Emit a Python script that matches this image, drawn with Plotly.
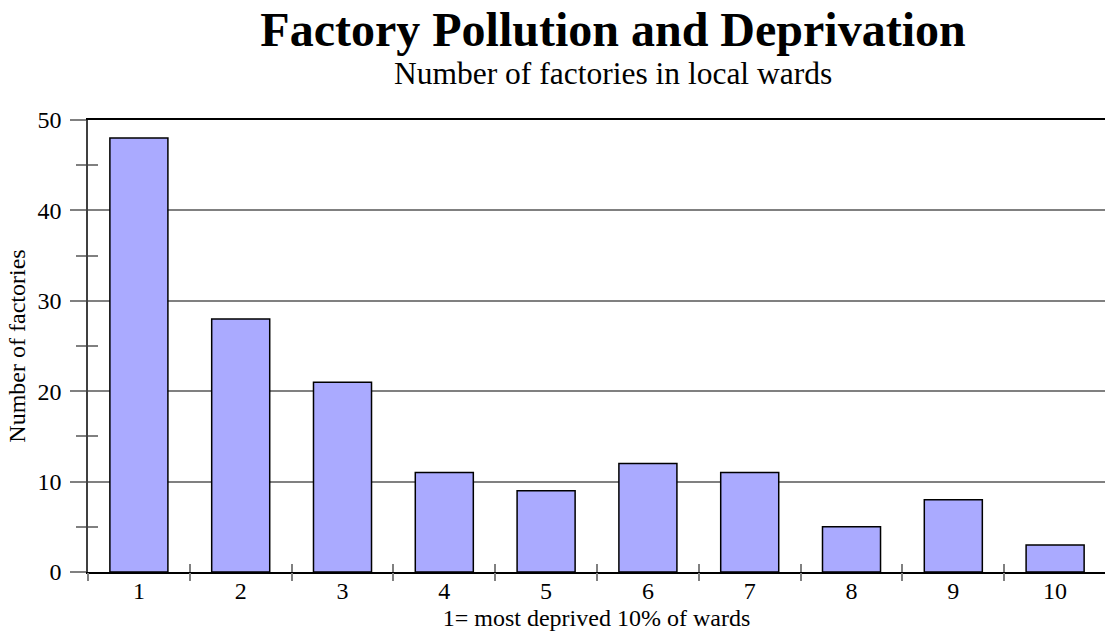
import plotly.graph_objects as go

categories = [1, 2, 3, 4, 5, 6, 7, 8, 9, 10]
tick_labels = ["1", "2", "3", "4", "5", "6", "7", "8", "9", "10"]
factories = [48, 28, 21, 11, 9, 12, 11, 5, 8, 3]
boundaries = [c - 0.5 for c in categories]

FONT = "Liberation Serif, Times New Roman, serif"
GRAY = "#808080"
FS = 24

fig = go.Figure()
fig.add_trace(go.Bar(
    x=categories, y=factories, width=0.57,
    marker=dict(color="#aaaaff", line=dict(color="black", width=1.5)),
    showlegend=False, hoverinfo="x+y",
))
fig.add_trace(go.Scatter(x=[None], y=[None], xaxis="x2", yaxis="y2", showlegend=False))
fig.add_trace(go.Scatter(x=[None], y=[None], xaxis="x3", yaxis="y", showlegend=False))

xr = [0.5, 10.49]
fig.update_layout(
    width=1105, height=637,
    margin=dict(l=88, r=0, t=120, b=65),
    paper_bgcolor="white", plot_bgcolor="white",
    font=dict(family=FONT, color="black", size=FS),
    title=dict(text="<b>Factory Pollution and Deprivation</b>",
               font=dict(family=FONT, size=48, color="black"),
               xref="container", x=613/1105, xanchor="center",
               yref="container", y=1-29/637, yanchor="middle", automargin=False),
    annotations=[dict(text="Number of factories in local wards",
                      xref="paper", yref="paper", x=(613-88)/1017, y=(572-74)/452,
                      xanchor="center", yanchor="middle", showarrow=False,
                      font=dict(family=FONT, size=31.5, color="black"))],
    xaxis=dict(range=xr, tickmode="array", tickvals=categories, ticktext=tick_labels,
               ticks="", showgrid=False, zeroline=False, automargin=False,
               showline=True, linecolor="black", linewidth=1.5, mirror=True, ticklabelstandoff=-4,
               tickfont=dict(size=FS, family=FONT),
               title=dict(text="1= most deprived 10% of wards", font=dict(size=FS, family=FONT), standoff=7)),
    xaxis2=dict(range=xr, overlaying="x", anchor="y", tickmode="array", tickvals=boundaries,
                ticks="outside", ticklen=8, tickwidth=1.5, tickcolor=GRAY, automargin=False,
                showticklabels=False, showgrid=False, zeroline=False, showline=False),
    xaxis3=dict(range=xr, overlaying="x", anchor="y", tickmode="array", tickvals=boundaries,
                ticks="inside", ticklen=8, tickwidth=1.5, tickcolor=GRAY, automargin=False,
                showticklabels=False, showgrid=False, zeroline=False, showline=False),
    yaxis=dict(range=[0, 50], tickmode="linear", tick0=0, dtick=10,
               ticks="outside", ticklen=16, tickwidth=1.5, tickcolor=GRAY,
               minor=dict(tick0=0, dtick=5, ticks="outside", ticklen=10, tickwidth=1.5, tickcolor=GRAY, showgrid=False),
               showgrid=True, gridcolor=GRAY, gridwidth=1.5, zeroline=False, automargin=False,
               showline=True, linecolor="#404040", linewidth=1.5, ticklabelstandoff=4,
               tickfont=dict(size=FS, family=FONT),
               title=dict(text="Number of factories", font=dict(size=FS, family=FONT), standoff=5)),
    yaxis2=dict(range=[0, 50], overlaying="y", anchor="x", tickmode="linear", tick0=0, dtick=10,
                ticks="inside", ticklen=16, tickwidth=1.5, tickcolor=GRAY, automargin=False,
                minor=dict(tick0=0, dtick=5, ticks="inside", ticklen=10, tickwidth=1.5, tickcolor=GRAY, showgrid=False),
                showticklabels=False, showgrid=False, zeroline=False, showline=False),
)

fig.write_html("out.html", config={"displayModeBar": False},
               post_script="document.body.style.margin='0';document.body.style.padding='0';")
